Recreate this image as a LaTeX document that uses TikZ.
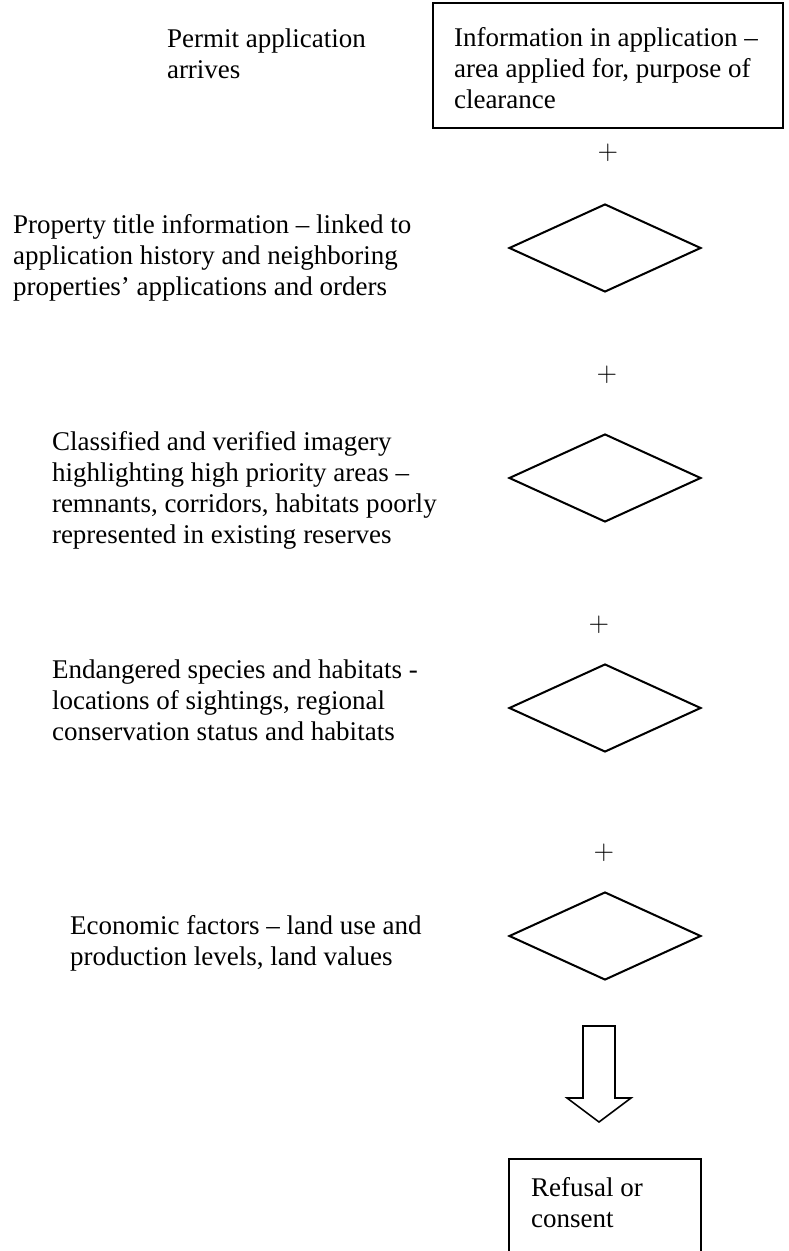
\documentclass[tikz,border=0pt]{standalone}
\usepackage{fontspec}
\setmainfont{Liberation Serif}
\usetikzlibrary{positioning, shapes.geometric}
\tikzset{
  txt/.style={anchor=north west, inner sep=0pt, align=left, font=\fontsize{12}{13.8}\selectfont},
  check/.style={diamond, draw, inner sep=0pt, aspect=2.18, minimum width=85.3pt, minimum height=39.1pt},
  plus/.style={inner sep=0pt, font=\fontsize{12}{13.8}\selectfont}
}
\begin{document}
\begin{tikzpicture}[x=0.4444pt, y=-0.4444pt, line width=0.9pt]
                \useasboundingbox (0,0) rectangle (788,1251);
                \node[txt] (permit) at (166,28) {Permit application\\arrives};
                \draw (433,3) rectangle (783,128);
                \node[txt] (info) at (453,26) {Information in application --\\area applied for, purpose of\\clearance};
                \node[plus] (p1) at (608,153) {$+$};
                \node[txt] (title) at (12,213) {Property title information -- linked to\\application history and neighboring\\properties' applications and orders};
                \node[check] (d1) at (605,248) {};
                \node[plus] (p2) at (607,375) {$+$};
                \node[txt] (imagery) at (51,430) {Classified and verified imagery\\highlighting high priority areas --\\remnants, corridors, habitats poorly\\represented in existing reserves};
                \node[check] (d2) at (605,478) {};
                \node[plus] (p3) at (599,625) {$+$};
                \node[txt] (species) at (51,659) {Endangered species and habitats -\\locations of sightings, regional\\conservation status and habitats};
                \node[check] (d3) at (605,708) {};
                \node[plus] (p4) at (604,853) {$+$};
                \node[txt] (econ) at (69,914) {Economic factors -- land use and\\production levels, land values};
                \node[check] (d4) at (605,936) {};
                \coordinate (tip) at (599,1122);
                \draw[line width=0.7pt] (583,1026) -- (615,1026) -- (615,1098) -- (631,1098) -- (tip) -- (567,1098) -- (583,1098) -- cycle;
                \draw (509,1253) -- (509,1159) -- (701,1159) -- (701,1253);
                \node[txt] (result) at (530,1176) {Refusal or\\consent};
            \end{tikzpicture}
\end{document}
